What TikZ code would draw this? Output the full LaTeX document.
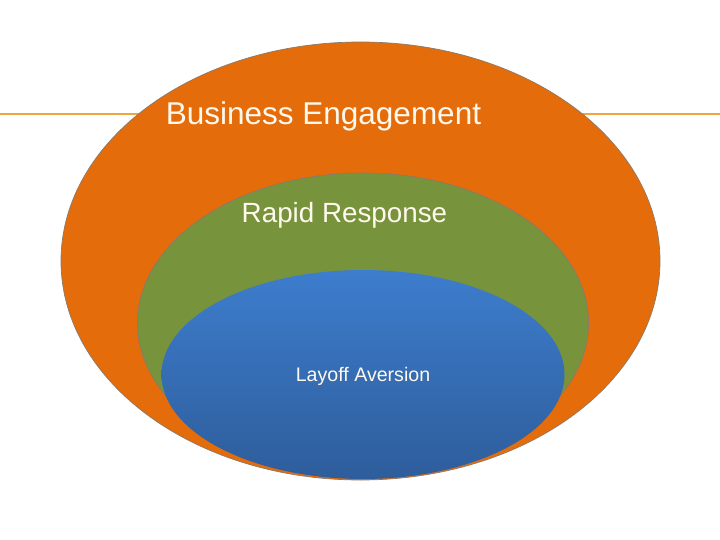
\documentclass[tikz,border=0pt]{standalone}
\usepackage{fontspec}
\setmainfont{Liberation Sans}
\definecolor{orng}{HTML}{E46C0A}
\definecolor{grn}{HTML}{77933C}
\definecolor{bluetop}{HTML}{3D7DCD}
\definecolor{bluebot}{HTML}{2E5D9B}
\definecolor{rule}{HTML}{EEA73C}
\definecolor{edge}{HTML}{8A7A6A}
\definecolor{txt}{HTML}{FFF8EC}
\begin{document}
\begin{tikzpicture}[x=1pt,y=-1pt,
  lbl/.style={text=txt, inner sep=0pt, anchor=center},
  ring/.style={draw=edge, line width=0.7pt}]
\useasboundingbox (0,0) rectangle (720,540);
\draw[rule, line width=2.8pt] (0,114) -- (720,114);
\fill[orng, ring] (360.5,261) ellipse [x radius=299.5, y radius=219];
\fill[grn, ring] (363,323) ellipse [x radius=225.5, y radius=150];
\shade[top color=bluetop, bottom color=bluebot, draw=none] (363,374.5) ellipse [x radius=201.5, y radius=104.5];
\node[lbl, font=\fontsize{31.5}{36}\selectfont] (be) at (323.5,116.5) {Business Engagement};
\node[lbl, font=\fontsize{27.8}{32}\selectfont] (rr) at (344.5,215.5) {Rapid Response};
\node[lbl, font=\fontsize{19.6}{23}\selectfont] (la) at (363,376.5) {Layoff Aversion};
\end{tikzpicture}
\end{document}
